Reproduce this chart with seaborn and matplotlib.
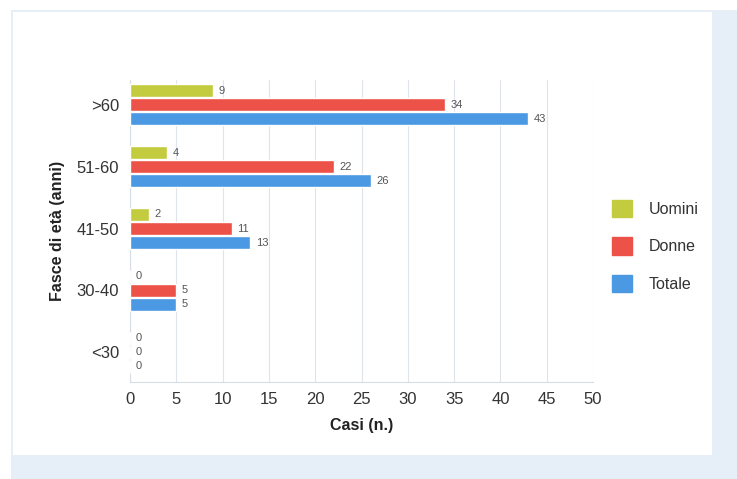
import matplotlib
matplotlib.use("Agg")
import matplotlib.pyplot as plt
import pandas as pd
import seaborn as sns
from matplotlib.patches import Rectangle

fasce = [">60", "51-60", "41-50", "30-40", "<30"]
uomini = [9, 4, 2, 0, 0]
donne = [34, 22, 11, 5, 0]
totale = [43, 26, 13, 5, 0]
serie = ["Uomini", "Donne", "Totale"]
colori = ["#c3cb3e", "#ec5248", "#4b98e3"]

df = pd.DataFrame({
    "fascia": fasce * 3,
    "serie": [s for s in serie for _ in fasce],
    "casi": uomini + donne + totale,
})

sns.set_style("white")
plt.rcParams["font.family"] = ["Liberation Sans", "DejaVu Sans"]

fig = plt.figure(figsize=(7.37, 4.79), dpi=100)
fig.patch.set_facecolor("white")
# cornice della pagina scansionata
fig.patches.append(Rectangle((11 / 737, 0), 1, 1 - 10 / 479, transform=fig.transFigure,
                             facecolor="#e6eff8", edgecolor="none", zorder=-2))
fig.patches.append(Rectangle((13 / 737, 1 - 455 / 479), (712 - 13) / 737, (455 - 12) / 479,
                             transform=fig.transFigure, facecolor="white",
                             edgecolor="none", zorder=-1))

ax = fig.add_axes([130 / 737, 1 - 382 / 479, (593 - 130) / 737, (382 - 80) / 479])
sns.barplot(data=df, y="fascia", x="casi", hue="serie", order=fasce, hue_order=serie,
            palette=colori, orient="h", width=0.68, gap=0.06, ax=ax, legend=False,
            saturation=1, zorder=3)

for cont in ax.containers:
    ax.bar_label(cont, padding=4, fontsize=8, color="#555555")

ax.set_xlim(0, 50)
ax.set_xticks(range(0, 51, 5))
ax.set_ylim(4.48, -0.4)
ax.grid(axis="x", color="#dfe3ea", linewidth=0.8, zorder=0)
for s in ["top", "right"]:
    ax.spines[s].set_visible(False)
for s in ["left", "bottom"]:
    ax.spines[s].set_color("#d8dde5")
ax.tick_params(axis="both", labelsize=12, labelcolor="#333333", length=0)
ax.tick_params(axis="y", pad=8)
ax.tick_params(axis="x", pad=7)
ax.set_xlabel("Casi (n.)", fontsize=11.5, fontweight="bold", color="#222222", labelpad=8)
ax.set_ylabel("Fasce di età (anni)", fontsize=11.5, fontweight="bold", color="#222222",
              labelpad=8)

handles = [Rectangle((0, 0), 1, 1, color=c) for c in colori]
fig.legend(handles, serie, loc="center left", bbox_to_anchor=(598 / 737, 1 - 246 / 479),
           frameon=False, fontsize=11.5, handlelength=1.2, handleheight=1.3,
           labelspacing=1.25, handletextpad=1.1, labelcolor="#333333")

fig.savefig("out.png", dpi=100)
